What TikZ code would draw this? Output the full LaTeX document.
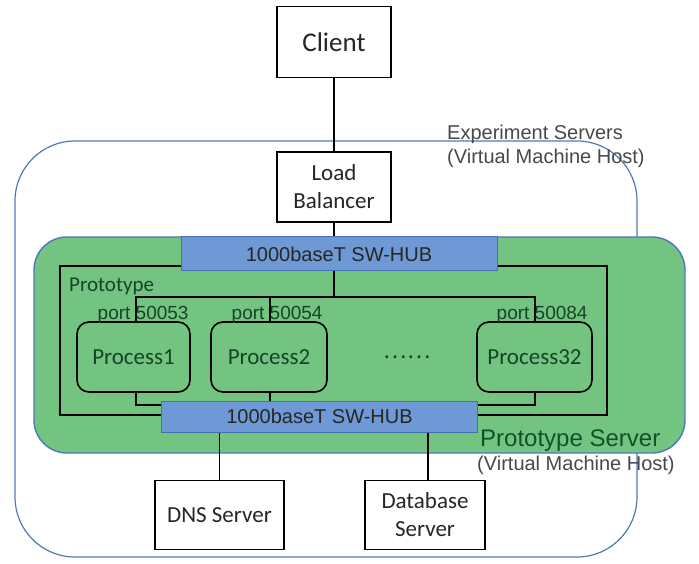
\documentclass[tikz,border=0pt]{standalone}
\usepackage{fontspec}
\setmainfont{Carlito}
\newfontfamily\arialfont{Liberation Sans}
\newfontfamily\cjkfont{Noto Sans CJK JP}
\usetikzlibrary{positioning}

\definecolor{hubblue}{RGB}{110,153,212}
\definecolor{hubedge}{RGB}{66,112,178}
\definecolor{servergreen}{RGB}{114,196,128}
\definecolor{hostblue}{RGB}{78,121,190}
\definecolor{procgreen}{RGB}{22,68,38}
\definecolor{notegray}{RGB}{72,72,72}
\definecolor{notegreen}{RGB}{18,82,40}

\begin{document}
\begin{tikzpicture}[x=1pt, y=-1pt,
    box/.style={draw, line width=1.6pt, fill=white, inner sep=0pt, align=center,
        text=black!85, font=\fontsize{23}{28}\selectfont},
    hub/.style={draw=hubedge, line width=1pt, fill=hubblue, inner sep=0pt,
        text=black!85, font=\arialfont\fontsize{20}{24}\selectfont},
    proc/.style={draw, rounded corners=12pt, line width=1.6pt, inner sep=0pt,
        text=procgreen, font=\fontsize{23}{28}\selectfont},
    port/.style={anchor=base west, inner sep=0pt, text=procgreen,
        font=\arialfont\fontsize{19}{22}\selectfont},
    note/.style={anchor=west, inner sep=0pt, align=left, text=notegray,
        font=\arialfont\fontsize{20}{24}\selectfont},
    wire/.style={line width=1.6pt}]
    \useasboundingbox (0,0) rectangle (699,564);

    \draw[hostblue, line width=1.2pt, rounded corners=60pt] (15,141) rectangle (637,557);
    \node[note] (expnote) at (447,146) {Experiment Servers\\(Virtual Machine Host)};

    \draw[hostblue, line width=1.4pt, fill=servergreen, rounded corners=33pt] (34,237) rectangle (685,453);
    \draw[line width=2pt] (60,266) rectangle (607,415);
    \node[anchor=west, inner sep=0pt, text=procgreen, font=\fontsize{21}{24}\selectfont] (protolabel) at (69,286) {Prototype};
    \node[anchor=west, inner sep=0pt, text=notegreen, font=\arialfont\fontsize{24}{28}\selectfont] (protonote) at (480,441) {Prototype Server};
    \node[note] (protohost) at (477,465) {(Virtual Machine Host)};

    \node[box, minimum width=114, minimum height=71, font=\fontsize{27}{30}\selectfont] (client) at (334,42) {Client};
    \node[box, minimum width=114, minimum height=70] (lb) at (334,187) {Load\\Balancer};
    \node[hub, minimum width=316, minimum height=34] (hubt) at (339,254) {1000baseT SW-HUB};

    \node[proc, minimum width=113, minimum height=70] (p1) at (133.5,357) {Process1};
    \node[proc, minimum width=116, minimum height=70] (p2) at (269,357) {Process2};
    \node[proc, minimum width=115, minimum height=70] (p32) at (534.5,357) {Process32};
    \node[inner sep=0pt, text=procgreen, font=\cjkfont\fontsize{22}{24}\selectfont] (dots) at (407,357) {……};

    \coordinate (bus) at (334,297);
    \coordinate (drop1) at ([xshift=2.5]p1.north);
    \coordinate (drop2) at ([xshift=1]p2.north);
    \coordinate (drop32) at ([xshift=0.5]p32.north);
    \draw[wire] (client) -- (lb);
    \draw[wire] (lb) -- (lb |- hubt.north);
    \draw[wire] (hubt.south -| bus) -- (bus);
    \draw[wire] (drop1) -- (drop1 |- bus) -- (drop32 |- bus) -- (drop32);
    \draw[wire] (drop2) -- (drop2 |- bus);

    \node[port] (port1) at ([xshift=-38.5]drop1 |- 0,319) {port 50053};
    \node[port] (port2) at ([xshift=-38.5]drop2 |- 0,319) {port 50054};
    \node[port] (port32) at ([xshift=-38.5]drop32 |- 0,319) {port 50084};

    \node[hub, minimum width=316, minimum height=31] (hubb) at (319.5,416.5) {1000baseT SW-HUB};
    \draw[wire] ([xshift=2.5]p1.south) |- (hubb.west |- 0,405);
    \draw[wire] ([xshift=1]p2.south) -- ([xshift=1]p2.south |- hubb.north);
    \draw[wire] ([xshift=0.5]p32.south) |- (hubb.east |- 0,405);

    \node[box, minimum width=129, minimum height=69] (dns) at (219.5,515) {DNS Server};
    \node[box, minimum width=120, minimum height=69] (db) at (425,515) {Database\\Server};
    \draw[wire] (dns.north) -- (dns.north |- hubb.south);
    \draw[wire] ([xshift=3]db.north) -- ([xshift=3]db.north |- hubb.south);
\end{tikzpicture}
\end{document}
